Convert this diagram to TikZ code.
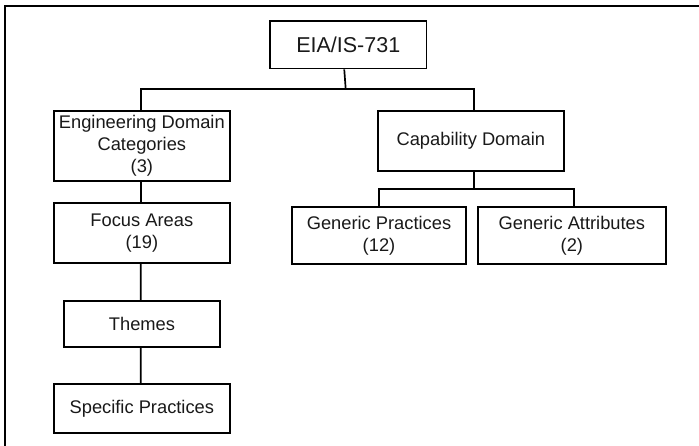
\documentclass[tikz,border=0pt]{standalone}
\usepackage{fontspec}
\setmainfont{Liberation Sans}
\begin{document}
\begin{tikzpicture}[x=1pt,y=-1pt,
  box/.style={draw=black, line width=1.7pt, align=center, inner sep=0pt,
    font=\fontsize{18.3}{22}\selectfont, text=black!90},
  link/.style={draw=black, line width=1.7pt}]
  \useasboundingbox (0,0) rectangle (699,446);
  % frame: top and left edges only
  \draw[line width=1.8pt] (4.7,446) -- (4.7,5.7) -- (699,5.7);

  % root
  \node[box, minimum width=156.5pt, minimum height=47.5pt,
        font=\fontsize{21.5}{26}\selectfont] (eia) at (348.25,44.75) {EIA/IS-731};

  % left branch
  \node[box, minimum width=176.3pt, minimum height=70pt] (edc) at (141.85,145.7)
    {Engineering Domain\\Categories\\(3)};
  \node[box, minimum width=176.3pt, minimum height=59.7pt] (fa) at (141.85,232.85)
    {Focus Areas\\(19)};
  \node[box, minimum width=156.6pt, minimum height=46pt] (th) at (142,323.7)
    {Themes};
  \node[box, minimum width=176.3pt, minimum height=49pt] (sp) at (141.85,408.8)
    {Specific Practices};

  % right branch
  \node[box, minimum width=186.3pt, minimum height=60pt] (cap) at (470.85,140.7)
    {Capability Domain};
  \node[box, minimum width=173.4pt, minimum height=57.6pt] (gp) at (379,235.5)
    {Generic Practices\\(12)};
  \node[box, minimum width=187.7pt, minimum height=57.6pt] (ga) at (571.85,235.5)
    {Generic Attributes\\(2)};

  % connectors
  \coordinate (hub) at (345.7,89);
  \coordinate (hub2) at (474,189.3);
  \draw[link] ([xshift=-4pt]eia.south) -- (hub);
  \draw[link] ([xshift=-1.1pt]edc.north) |- (hub) -| ([xshift=3.1pt]cap.north);
  \draw[link] ([xshift=3.1pt]cap.south) -- (hub2);
  \draw[link] (gp.north) |- (hub2) -| ([xshift=2.1pt]ga.north);
  \draw[link] ([xshift=-1.1pt]edc.south) -- ([xshift=-1.1pt]fa.north);
  \draw[link] ([xshift=-1.1pt]fa.south) -- ([xshift=-1.3pt]th.north);
  \draw[link] ([xshift=-1.3pt]th.south) -- ([xshift=-1.1pt]sp.north);
\end{tikzpicture}
\end{document}
